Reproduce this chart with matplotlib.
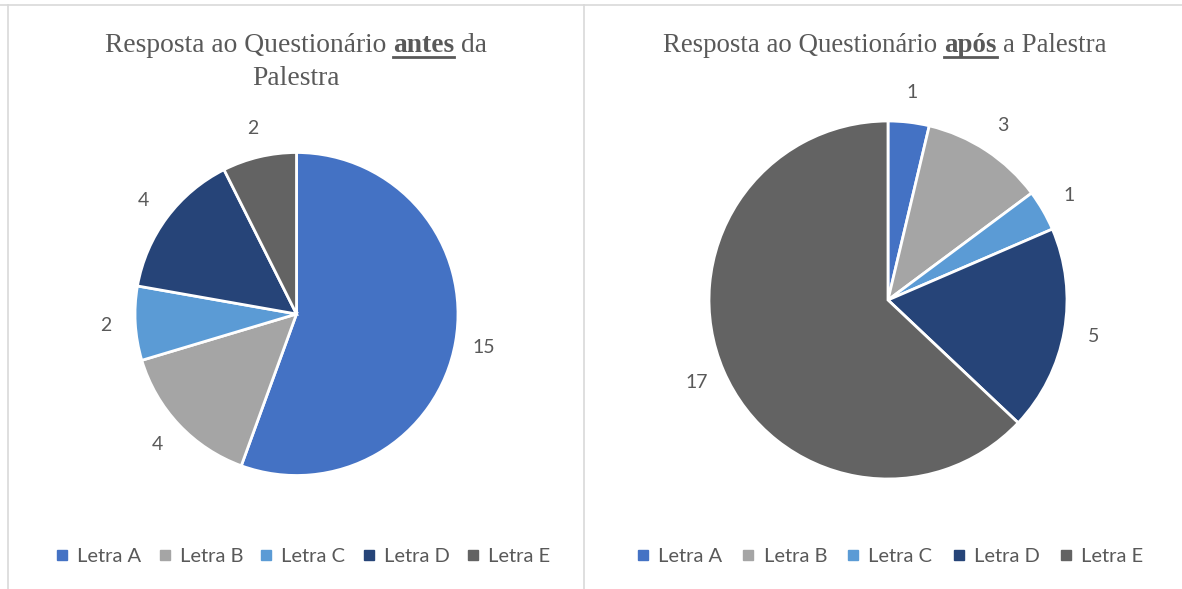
import matplotlib
matplotlib.use("Agg")
import matplotlib.pyplot as plt
from matplotlib.lines import Line2D

categories = ["Letra A", "Letra B", "Letra C", "Letra D", "Letra E"]
antes_values = [15, 4, 2, 4, 2]
apos_values = [1, 3, 1, 5, 17]
colors = ["#4472C4", "#A5A5A5", "#5B9BD5", "#264478", "#636363"]
title_antes = [("Resposta ao Questionário ", False), ("antes", True), (" da", False)]
title_antes_line2 = "Palestra"
title_apos = [("Resposta ao Questionário ", False), ("após", True), (" a Palestra", False)]

W, H = 1182, 589
DPI = 100
TXT = "#595959"
SANS = "Lato"
SERIF = "Liberation Serif"

fig = plt.figure(figsize=(W / DPI, H / DPI), dpi=DPI)
fig.patch.set_facecolor("white")


def px_axes(cx, cy, r):
    # cx, cy in pixels from top-left
    return fig.add_axes([(cx - r) / W, (H - cy - r) / H, 2 * r / W, 2 * r / H])


def draw_pie(ax, vals, ld):
    wedges, texts = ax.pie(vals, colors=colors, startangle=90, counterclock=False,
                           labels=[str(v) for v in vals], labeldistance=ld,
                           wedgeprops=dict(edgecolor="white", linewidth=2.0),
                           textprops=dict(color=TXT, fontsize=14, family=SANS))
    for t in texts:
        t.set_ha("center")
        t.set_va("center")
    ax.set_xlim(-1, 1)
    ax.set_ylim(-1, 1)
    ax.set_aspect("equal")
    ax.axis("off")


ax1 = px_axes(296.5, 314, 161.5)
draw_pie(ax1, antes_values, 1.18)
ax2 = px_axes(888, 300, 179)
draw_pie(ax2, apos_values, 1.165)

renderer = fig.canvas.get_renderer()
TSIZE = 19.5


def rich_title(parts, cx, base_y, size):
    texts = []
    widths = []
    for s, bold in parts:
        t = fig.text(0, 0, s.strip(), fontsize=size, family=SERIF,
                     fontweight="bold" if bold else "normal", color=TXT,
                     ha="left", va="baseline")
        bb = t.get_window_extent(renderer)
        texts.append(t)
        widths.append(bb.width)
    tmp = fig.text(0, 0, "a a", fontsize=size, family=SERIF)
    tmp2 = fig.text(0, 0, "aa", fontsize=size, family=SERIF)
    sp = tmp.get_window_extent(renderer).width - tmp2.get_window_extent(renderer).width
    tmp.remove(); tmp2.remove()
    total = sum(widths) + sp * (len(parts) - 1)
    x = cx - total / 2
    yb = H - base_y
    for (s, bold), t, w in zip(parts, texts, widths):
        t.set_position((x / W, yb / H))
        if bold:
            uy = yb - 4.5
            fig.add_artist(Line2D([x / W, (x + w) / W], [uy / H, uy / H],
                                  color=TXT, linewidth=2.0, transform=fig.transFigure))
        x += w + sp


rich_title(title_antes, 296, 52, 19.8)
fig.text(296 / W, (H - 85) / H, title_antes_line2, fontsize=19.8, family=SERIF,
         color=TXT, ha="center", va="baseline")
rich_title(title_apos, 885, 52, 19.4)

# legends
handles = [Line2D([], [], linestyle="none", marker="s", markersize=6.5,
                  markerfacecolor=c, markeredgecolor=c) for c in colors]
for cx, cs in ((303, 0.85), (890, 1.0)):
    fig.legend(handles, categories, loc="center", bbox_to_anchor=(cx / W, (H - 556) / H),
               ncol=5, frameon=False, handlelength=0.6, handletextpad=0.45,
               columnspacing=cs, prop=dict(family=SANS, size=14.5), labelcolor=TXT)

# panel borders
bc = "#D9D9D9"
fig.add_artist(Line2D([0, 1], [(H - 5) / H] * 2, color=bc, linewidth=1.2, transform=fig.transFigure))
fig.add_artist(Line2D([8 / W] * 2, [0, (H - 5) / H], color=bc, linewidth=1.2, transform=fig.transFigure))
fig.add_artist(Line2D([584 / W] * 2, [0, (H - 5) / H], color=bc, linewidth=1.2, transform=fig.transFigure))

fig.savefig("out.png", dpi=DPI, facecolor="white")
